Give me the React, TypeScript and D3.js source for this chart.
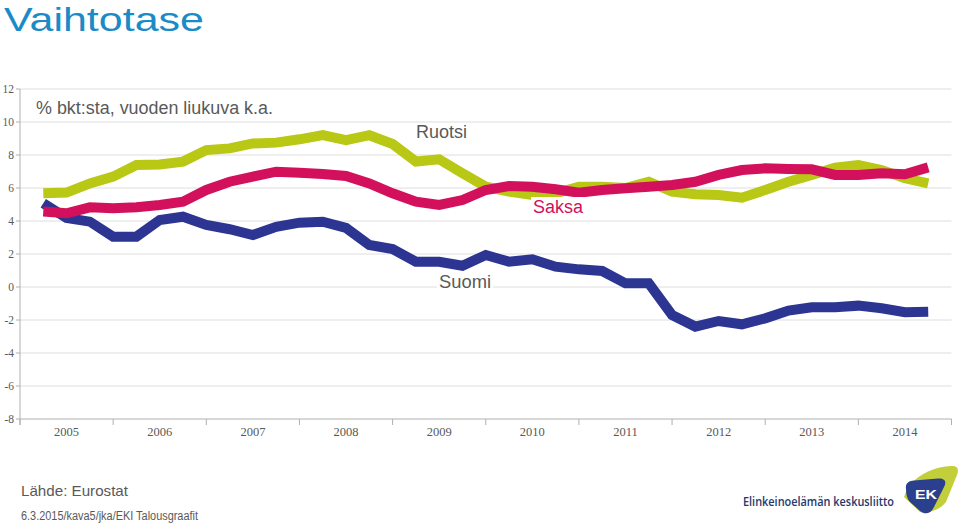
import React from "react";
import * as d3 from "d3";

const years = ["2005", "2006", "2007", "2008", "2009", "2010", "2011", "2012", "2013", "2014"];
const yTicks = [12, 10, 8, 6, 4, 2, 0, -2, -4, -6, -8];

// quarterly, rolling 4-quarter average, % of GDP (2005Q2 .. 2014Q4)
const suomi = [5.07, 4.18, 3.96, 3.05, 3.05, 4.06, 4.26, 3.76, 3.5, 3.15, 3.65, 3.9, 3.96, 3.58, 2.55, 2.3, 1.53, 1.53, 1.29, 1.94, 1.53, 1.68, 1.23, 1.07, 0.97, 0.22, 0.22, -1.7, -2.4, -2.06, -2.26, -1.9, -1.43, -1.23, -1.23, -1.13, -1.29, -1.53, -1.5];
const ruotsi = [5.68, 5.72, 6.28, 6.69, 7.39, 7.43, 7.6, 8.3, 8.4, 8.7, 8.75, 8.95, 9.2, 8.9, 9.2, 8.67, 7.6, 7.74, 6.89, 6.08, 5.78, 5.58, 5.68, 6.08, 6.08, 6.0, 6.38, 5.78, 5.62, 5.58, 5.41, 5.88, 6.38, 6.79, 7.23, 7.39, 7.09, 6.59, 6.28];
const saksa = [4.57, 4.47, 4.83, 4.77, 4.83, 4.97, 5.17, 5.88, 6.38, 6.69, 6.99, 6.93, 6.85, 6.73, 6.28, 5.68, 5.17, 4.97, 5.27, 5.88, 6.12, 6.08, 5.92, 5.72, 5.88, 5.98, 6.08, 6.18, 6.38, 6.79, 7.09, 7.19, 7.15, 7.13, 6.79, 6.79, 6.89, 6.83, 7.25];

const seriesList = [
  { name: "Suomi", values: suomi, color: "#2d3592" },
  { name: "Ruotsi", values: ruotsi, color: "#b8c814" },
  { name: "Saksa", values: saksa, color: "#d3105c" },
];

export default function App() {
  const W = 960, H = 524;
  const x = d3.scaleLinear().domain([0, years.length * 4]).range([20, 951.5]);
  const y = d3.scaleLinear().domain([-8, 12]).range([419, 89]);
  const line = d3
    .line<number>()
    .x((_, i) => x(i + 1))
    .y((d) => y(d))
    .curve(d3.curveLinear);

  const gray = "#595959";
  const serif = "'Liberation Serif', 'DejaVu Serif', serif";
  const sans = "'Liberation Sans', Arial, sans-serif";
  const yearTicks = d3.range(0, years.length * 4 + 1, 4);

  return (
    <svg width={W} height={H} style={{ position: "absolute", left: 0, top: 0, background: "#fff" }}>
      <rect x={0} y={0} width={W} height={H} fill="#fff" />
      <text x={4} y={30.5} fontFamily={sans} fontSize={33.5} fill="#1a8bc6" textLength={200} lengthAdjust="spacingAndGlyphs">
        Vaihtotase
      </text>

      {/* gridlines */}
      {yTicks.map((t) => (
        <g key={t}>
          {t !== -8 && <line x1={20} x2={951.5} y1={y(t)} y2={y(t)} stroke="#dedede" strokeWidth={1} />}
          <line x1={16} x2={20} y1={y(t)} y2={y(t)} stroke="#b0b0b0" strokeWidth={1} />
          <text x={14} y={y(t)} dy="0.35em" textAnchor="end" fontFamily={serif} fontSize={11.5} fill={gray}>
            {t}
          </text>
        </g>
      ))}
      <line x1={20} x2={20} y1={y(12)} y2={y(-8) + 6} stroke="#b0b0b0" strokeWidth={1} />
      <line x1={20} x2={951.5} y1={y(-8)} y2={y(-8)} stroke="#b0b0b0" strokeWidth={1} />
      {yearTicks.map((q) => (
        <line key={q} x1={x(q)} x2={x(q)} y1={y(-8)} y2={y(-8) + 6} stroke="#b0b0b0" strokeWidth={1} />
      ))}
      {years.map((yr, i) => (
        <text key={yr} x={x(i * 4 + 2)} y={436} textAnchor="middle" fontFamily={serif} fontSize={12.5} fill={gray}>
          {yr}
        </text>
      ))}

      {/* lines */}
      {seriesList.map((s) => (
        <path key={s.name} d={line(s.values) || ""} fill="none" stroke={s.color} strokeWidth={10} strokeLinejoin="miter" strokeMiterlimit={2} />
      ))}

      {/* labels */}
      <text x={36} y={114} fontFamily={sans} fontSize={17.5} fill={gray} textLength={237} lengthAdjust="spacingAndGlyphs">
        % bkt:sta, vuoden liukuva k.a.
      </text>
      <text x={416} y={138} fontFamily={sans} fontSize={17.5} fill={gray} textLength={51} lengthAdjust="spacingAndGlyphs">
        Ruotsi
      </text>
      <rect x={531} y={197} width={54} height={20} fill="#fff" />
      <text x={533} y={213} fontFamily={sans} fontSize={18} fill="#d3105c" textLength={50} lengthAdjust="spacingAndGlyphs">
        Saksa
      </text>
      <rect x={437} y={272} width={56} height={20} fill="#fff" />
      <text x={439} y={288} fontFamily={sans} fontSize={17.5} fill={gray} textLength={52} lengthAdjust="spacingAndGlyphs">
        Suomi
      </text>

      {/* footer */}
      <text x={21} y={496} fontFamily={sans} fontSize={15} fill={gray} textLength={107} lengthAdjust="spacingAndGlyphs">
        Lähde: Eurostat
      </text>
      <text x={21} y={520} fontFamily={sans} fontSize={12} fill={gray} textLength={177} lengthAdjust="spacingAndGlyphs">
        6.3.2015/kava5/jka/EKI Talousgraafit
      </text>

      {/* logo */}
      <text x={743} y={506} fontFamily="'Open Sans', sans-serif" fontWeight={600} fontSize={12.5} fill="#24386c" textLength={151} lengthAdjust="spacingAndGlyphs">
        Elinkeinoelämän keskusliitto
      </text>
      <path d="M904,497 C910,478 930,467 952,466 C958,466 959,470 957,475 L946,502 C940,510 930,513 920,512 Z" fill="#c2cf3a" />
      <path d="M906,489 C905,483 909,481 914,480.5 L938,478.5 C945,478 947,482 944,487 L934,507 C931,514 925,515 920,511 L910,502 C907,499 906,494 906,489 Z" fill="#2b3f8f" />
      <text x={926} y={499} textAnchor="middle" fontFamily={sans} fontWeight={700} fontSize={12} fill="#fff" textLength={22} lengthAdjust="spacingAndGlyphs">
        EK
      </text>
    </svg>
  );
}
